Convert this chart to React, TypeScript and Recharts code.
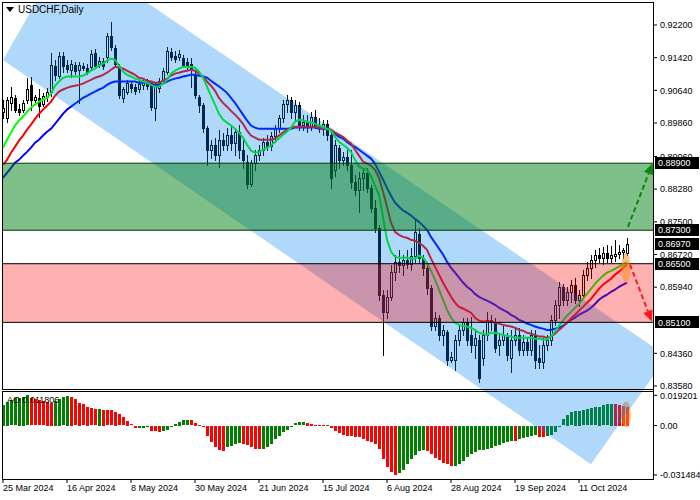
import React from 'react';
import { ComposedChart, Bar, Line, Area, XAxis, YAxis, ReferenceArea, ReferenceLine, ReferenceDot } from 'recharts';

const W = 700;
const H = 500;
const FONT = "Tahoma, 'Liberation Sans', Arial, sans-serif";

const dateTicks = [0, 16, 32, 48, 64, 80, 96, 112, 128, 144];
const dateLabels = ['25 Mar 2024', '16 Apr 2024', '8 May 2024', '30 May 2024', '21 Jun 2024', '15 Jul 2024', '6 Aug 2024', '28 Aug 2024', '19 Sep 2024', '11 Oct 2024'];

const open = [
  0.9013, 0.8999, 0.9034, 0.9046, 0.9020, 0.9018, 0.9042, 0.9077, 0.9042, 0.9046,
  0.9032, 0.9049, 0.9061, 0.9123, 0.9099, 0.9147, 0.9125, 0.9113, 0.9125, 0.9113,
  0.9123, 0.9118, 0.9120, 0.9154, 0.9128, 0.9135, 0.9144, 0.9194, 0.9166, 0.9123,
  0.9046, 0.9061, 0.9080, 0.9073, 0.9066, 0.9077, 0.9085, 0.9080, 0.9022, 0.9070,
  0.9089, 0.9108, 0.9156, 0.9147, 0.9144, 0.9142, 0.9132, 0.9128, 0.9104, 0.9049,
  0.9030, 0.8975, 0.8922, 0.8934, 0.8910, 0.8946, 0.8934, 0.8958, 0.8939, 0.8965,
  0.8922, 0.8894, 0.8841, 0.8891, 0.8910, 0.8922, 0.8941, 0.8932, 0.8956, 0.8975,
  0.8999, 0.9032, 0.9042, 0.9013, 0.9030, 0.8982, 0.8989, 0.8977, 0.9001, 0.8982,
  0.8977, 0.8984, 0.8958, 0.8874, 0.8927, 0.8898, 0.8906, 0.8886, 0.8846, 0.8827,
  0.8855, 0.8867, 0.8831, 0.8784, 0.8736, 0.8576, 0.8535, 0.8571, 0.8631, 0.8655,
  0.8648, 0.8660, 0.8650, 0.8669, 0.8722, 0.8664, 0.8640, 0.8593, 0.8502, 0.8521,
  0.8480, 0.8488, 0.8421, 0.8421, 0.8468, 0.8492, 0.8511, 0.8480, 0.8457, 0.8468,
  0.8426, 0.8480, 0.8516, 0.8511, 0.8457, 0.8468, 0.8476, 0.8426, 0.8468, 0.8480,
  0.8445, 0.8464, 0.8445, 0.8480, 0.8426, 0.8416, 0.8457, 0.8468, 0.8516, 0.8552,
  0.8595, 0.8564, 0.8583, 0.8600, 0.8564, 0.8576, 0.8624, 0.8640, 0.8660, 0.8671,
  0.8664, 0.8676, 0.8664, 0.8669, 0.8674, 0.8679, 0.8676,
];
const high = [
  0.9042, 0.9049, 0.9073, 0.9054, 0.9032, 0.9042, 0.9094, 0.9097, 0.9054, 0.9066,
  0.9058, 0.9070, 0.9154, 0.9137, 0.9156, 0.9156, 0.9137, 0.9137, 0.9132, 0.9132,
  0.9130, 0.9128, 0.9161, 0.9163, 0.9144, 0.9142, 0.9202, 0.9228, 0.9173, 0.9128,
  0.9073, 0.9089, 0.9087, 0.9080, 0.9087, 0.9094, 0.9092, 0.9087, 0.9085, 0.9094,
  0.9118, 0.9168, 0.9166, 0.9159, 0.9161, 0.9149, 0.9142, 0.9142, 0.9108, 0.9054,
  0.9034, 0.8980, 0.8946, 0.8951, 0.8970, 0.8963, 0.8975, 0.8982, 0.8975, 0.8982,
  0.8946, 0.8910, 0.8898, 0.8922, 0.8934, 0.8951, 0.8958, 0.8965, 0.8982, 0.9006,
  0.9042, 0.9054, 0.9049, 0.9042, 0.9037, 0.9006, 0.9006, 0.9013, 0.9018, 0.8999,
  0.8994, 0.8994, 0.8970, 0.8946, 0.8934, 0.8917, 0.8922, 0.8922, 0.8863, 0.8870,
  0.8879, 0.8879, 0.8839, 0.8803, 0.8743, 0.8588, 0.8588, 0.8648, 0.8671, 0.8683,
  0.8671, 0.8683, 0.8688, 0.8755, 0.8736, 0.8671, 0.8655, 0.8600, 0.8535, 0.8528,
  0.8504, 0.8492, 0.8440, 0.8480, 0.8504, 0.8521, 0.8521, 0.8523, 0.8492, 0.8480,
  0.8492, 0.8535, 0.8528, 0.8521, 0.8480, 0.8504, 0.8485, 0.8492, 0.8497, 0.8497,
  0.8480, 0.8473, 0.8492, 0.8492, 0.8457, 0.8473, 0.8480, 0.8528, 0.8564, 0.8607,
  0.8602, 0.8595, 0.8612, 0.8617, 0.8588, 0.8636, 0.8655, 0.8671, 0.8683, 0.8688,
  0.8691, 0.8695, 0.8693, 0.8707, 0.8695, 0.8688, 0.8712,
];
const low = [
  0.8999, 0.8989, 0.9018, 0.9013, 0.9006, 0.9013, 0.9034, 0.9018, 0.9032, 0.9001,
  0.9027, 0.9039, 0.9051, 0.9089, 0.9094, 0.9108, 0.9108, 0.9097, 0.9104, 0.9034,
  0.9113, 0.9104, 0.9116, 0.9118, 0.9120, 0.9116, 0.9132, 0.9161, 0.9120, 0.9046,
  0.9037, 0.9056, 0.9061, 0.9056, 0.9061, 0.9068, 0.9066, 0.9018, 0.8994, 0.9061,
  0.9085, 0.9104, 0.9137, 0.9132, 0.9137, 0.9120, 0.9113, 0.9073, 0.9046, 0.9013,
  0.8965, 0.8886, 0.8903, 0.8898, 0.8882, 0.8922, 0.8922, 0.8922, 0.8910, 0.8903,
  0.8879, 0.8831, 0.8836, 0.8874, 0.8898, 0.8910, 0.8922, 0.8922, 0.8941, 0.8965,
  0.8989, 0.9013, 0.8999, 0.8994, 0.8970, 0.8970, 0.8965, 0.8970, 0.8975, 0.8965,
  0.8958, 0.8946, 0.8831, 0.8860, 0.8879, 0.8886, 0.8874, 0.8831, 0.8815, 0.8774,
  0.8827, 0.8822, 0.8774, 0.8726, 0.8564, 0.8433, 0.8521, 0.8564, 0.8612, 0.8631,
  0.8624, 0.8640, 0.8636, 0.8655, 0.8655, 0.8624, 0.8578, 0.8492, 0.8492, 0.8468,
  0.8457, 0.8409, 0.8416, 0.8397, 0.8457, 0.8480, 0.8457, 0.8440, 0.8426, 0.8368,
  0.8409, 0.8468, 0.8492, 0.8440, 0.8433, 0.8457, 0.8421, 0.8392, 0.8457, 0.8433,
  0.8433, 0.8433, 0.8433, 0.8402, 0.8402, 0.8402, 0.8445, 0.8457, 0.8504, 0.8521,
  0.8552, 0.8552, 0.8559, 0.8557, 0.8550, 0.8569, 0.8612, 0.8617, 0.8643, 0.8655,
  0.8650, 0.8655, 0.8655, 0.8657, 0.8664, 0.8664, 0.8671,
];
const close = [
  0.9022, 0.9042, 0.9049, 0.9018, 0.9013, 0.9034, 0.9066, 0.9042, 0.9049, 0.9027,
  0.9051, 0.9061, 0.9125, 0.9101, 0.9147, 0.9123, 0.9116, 0.9128, 0.9111, 0.9125,
  0.9118, 0.9108, 0.9151, 0.9123, 0.9135, 0.9123, 0.9194, 0.9168, 0.9128, 0.9054,
  0.9066, 0.9082, 0.9070, 0.9063, 0.9080, 0.9087, 0.9075, 0.9025, 0.9077, 0.9087,
  0.9111, 0.9159, 0.9144, 0.9140, 0.9151, 0.9125, 0.9123, 0.9113, 0.9054, 0.9030,
  0.8975, 0.8922, 0.8934, 0.8910, 0.8946, 0.8934, 0.8958, 0.8939, 0.8965, 0.8922,
  0.8898, 0.8841, 0.8891, 0.8910, 0.8922, 0.8941, 0.8932, 0.8956, 0.8975, 0.8999,
  0.9032, 0.9042, 0.9013, 0.9030, 0.8982, 0.8989, 0.8977, 0.9001, 0.8982, 0.8977,
  0.8984, 0.8958, 0.8855, 0.8934, 0.8898, 0.8906, 0.8886, 0.8846, 0.8827, 0.8855,
  0.8867, 0.8831, 0.8784, 0.8736, 0.8576, 0.8535, 0.8571, 0.8631, 0.8655, 0.8648,
  0.8660, 0.8650, 0.8669, 0.8726, 0.8664, 0.8640, 0.8593, 0.8502, 0.8521, 0.8480,
  0.8492, 0.8421, 0.8428, 0.8468, 0.8492, 0.8511, 0.8468, 0.8457, 0.8473, 0.8378,
  0.8480, 0.8516, 0.8511, 0.8449, 0.8468, 0.8480, 0.8433, 0.8468, 0.8480, 0.8445,
  0.8464, 0.8445, 0.8480, 0.8421, 0.8416, 0.8457, 0.8468, 0.8516, 0.8552, 0.8595,
  0.8564, 0.8583, 0.8600, 0.8564, 0.8576, 0.8624, 0.8640, 0.8660, 0.8671, 0.8664,
  0.8676, 0.8664, 0.8671, 0.8674, 0.8679, 0.8683, 0.8697,
];

const maFast = [
  0.8927, 0.8946, 0.8963, 0.8980, 0.8992, 0.9001, 0.9013, 0.9023, 0.9030, 0.9037,
  0.9042, 0.9046, 0.9056, 0.9075, 0.9085, 0.9094, 0.9097, 0.9097, 0.9097, 0.9097,
  0.9099, 0.9104, 0.9111, 0.9116, 0.9123, 0.9128, 0.9135, 0.9140, 0.9137, 0.9123,
  0.9109, 0.9101, 0.9097, 0.9092, 0.9089, 0.9085, 0.9082, 0.9077, 0.9073, 0.9073,
  0.9080, 0.9089, 0.9104, 0.9111, 0.9116, 0.9120, 0.9120, 0.9120, 0.9118, 0.9109,
  0.9094, 0.9073, 0.9051, 0.9030, 0.9008, 0.8994, 0.8987, 0.8980, 0.8972, 0.8963,
  0.8951, 0.8934, 0.8920, 0.8915, 0.8917, 0.8922, 0.8927, 0.8932, 0.8941, 0.8949,
  0.8958, 0.8965, 0.8975, 0.8989, 0.8994, 0.8992, 0.8989, 0.8987, 0.8984, 0.8980,
  0.8977, 0.8972, 0.8968, 0.8953, 0.8941, 0.8934, 0.8927, 0.8917, 0.8898, 0.8882,
  0.8877, 0.8874, 0.8860, 0.8836, 0.8815, 0.8762, 0.8707, 0.8679, 0.8667, 0.8664,
  0.8664, 0.8664, 0.8662, 0.8662, 0.8669, 0.8664, 0.8652, 0.8633, 0.8612, 0.8588,
  0.8564, 0.8540, 0.8521, 0.8509, 0.8504, 0.8502, 0.8500, 0.8497, 0.8492, 0.8485,
  0.8483, 0.8480, 0.8485, 0.8485, 0.8483, 0.8480, 0.8478, 0.8476, 0.8473, 0.8473,
  0.8473, 0.8473, 0.8473, 0.8471, 0.8471, 0.8469, 0.8469, 0.8476, 0.8488, 0.8502,
  0.8514, 0.8526, 0.8535, 0.8545, 0.8554, 0.8566, 0.8578, 0.8590, 0.8602, 0.8612,
  0.8621, 0.8629, 0.8633, 0.8638, 0.8643, 0.8648, 0.8655,
];
const maMid = [
  0.8886, 0.8898, 0.8915, 0.8929, 0.8944, 0.8956, 0.8970, 0.8982, 0.8996, 0.9008,
  0.9018, 0.9027, 0.9037, 0.9051, 0.9061, 0.9066, 0.9070, 0.9073, 0.9075, 0.9077,
  0.9080, 0.9085, 0.9089, 0.9094, 0.9097, 0.9101, 0.9106, 0.9113, 0.9120, 0.9118,
  0.9116, 0.9111, 0.9106, 0.9101, 0.9094, 0.9092, 0.9087, 0.9085, 0.9082, 0.9082,
  0.9087, 0.9092, 0.9099, 0.9104, 0.9106, 0.9109, 0.9111, 0.9113, 0.9111, 0.9104,
  0.9097, 0.9085, 0.9075, 0.9063, 0.9046, 0.9034, 0.9025, 0.9015, 0.9006, 0.8996,
  0.8984, 0.8968, 0.8956, 0.8951, 0.8946, 0.8946, 0.8946, 0.8946, 0.8949, 0.8956,
  0.8963, 0.8970, 0.8975, 0.8977, 0.8977, 0.8977, 0.8977, 0.8977, 0.8977, 0.8975,
  0.8972, 0.8972, 0.8970, 0.8963, 0.8958, 0.8953, 0.8944, 0.8937, 0.8922, 0.8908,
  0.8894, 0.8889, 0.8884, 0.8874, 0.8855, 0.8822, 0.8786, 0.8748, 0.8726, 0.8719,
  0.8714, 0.8712, 0.8707, 0.8705, 0.8700, 0.8693, 0.8683, 0.8662, 0.8643, 0.8624,
  0.8605, 0.8588, 0.8571, 0.8557, 0.8547, 0.8543, 0.8538, 0.8533, 0.8521, 0.8514,
  0.8512, 0.8512, 0.8512, 0.8509, 0.8507, 0.8504, 0.8502, 0.8500, 0.8497, 0.8492,
  0.8490, 0.8485, 0.8483, 0.8480, 0.8476, 0.8476, 0.8473, 0.8476, 0.8483, 0.8492,
  0.8500, 0.8509, 0.8519, 0.8528, 0.8538, 0.8547, 0.8557, 0.8566, 0.8578, 0.8590,
  0.8600, 0.8607, 0.8614, 0.8624, 0.8631, 0.8640, 0.8648,
];
const maSlow = [
  0.8855, 0.8867, 0.8879, 0.8891, 0.8898, 0.8908, 0.8917, 0.8927, 0.8939, 0.8946,
  0.8956, 0.8965, 0.8972, 0.8984, 0.8996, 0.9008, 0.9018, 0.9025, 0.9032, 0.9039,
  0.9046, 0.9051, 0.9056, 0.9061, 0.9066, 0.9070, 0.9077, 0.9082, 0.9085, 0.9085,
  0.9085, 0.9085, 0.9085, 0.9085, 0.9082, 0.9082, 0.9082, 0.9080, 0.9077, 0.9077,
  0.9080, 0.9085, 0.9089, 0.9092, 0.9094, 0.9097, 0.9099, 0.9101, 0.9101, 0.9099,
  0.9097, 0.9094, 0.9087, 0.9080, 0.9073, 0.9066, 0.9058, 0.9046, 0.9034, 0.9020,
  0.9006, 0.8992, 0.8980, 0.8975, 0.8972, 0.8972, 0.8972, 0.8972, 0.8972, 0.8972,
  0.8972, 0.8972, 0.8972, 0.8975, 0.8975, 0.8975, 0.8975, 0.8975, 0.8975, 0.8972,
  0.8972, 0.8972, 0.8968, 0.8960, 0.8953, 0.8949, 0.8941, 0.8934, 0.8929, 0.8922,
  0.8915, 0.8908, 0.8901, 0.8889, 0.8870, 0.8851, 0.8831, 0.8812, 0.8796, 0.8786,
  0.8777, 0.8772, 0.8765, 0.8757, 0.8750, 0.8741, 0.8731, 0.8714, 0.8700, 0.8686,
  0.8672, 0.8655, 0.8640, 0.8629, 0.8617, 0.8605, 0.8595, 0.8588, 0.8578, 0.8571,
  0.8566, 0.8562, 0.8557, 0.8552, 0.8545, 0.8540, 0.8535, 0.8528, 0.8523, 0.8516,
  0.8512, 0.8507, 0.8504, 0.8500, 0.8497, 0.8495, 0.8492, 0.8492, 0.8495, 0.8497,
  0.8502, 0.8509, 0.8516, 0.8521, 0.8528, 0.8533, 0.8538, 0.8545, 0.8554, 0.8564,
  0.8571, 0.8576, 0.8583, 0.8588, 0.8595, 0.8600, 0.8605,
];

const ao = [
  0.01306, 0.01518, 0.01624, 0.0173, 0.0176, 0.0184, 0.019201, 0.0172, 0.0166, 0.0161,
  0.0156, 0.0150, 0.0146, 0.0158, 0.0170, 0.0180, 0.0188, 0.0184, 0.0167, 0.0145,
  0.0135, 0.0120, 0.0109, 0.0105, 0.0107, 0.0099, 0.0098, 0.0097, 0.0088, 0.0071,
  0.0052, 0.0031, 0.0007, -0.0015, -0.0012, -0.0010, -0.0009, -0.0030, -0.0034, -0.0036,
  -0.0034, -0.0025, -0.0008, 0.0012, 0.0024, 0.0032, 0.0035, 0.0033, 0.0018, 0.0003,
  -0.0008, -0.0061, -0.0103, -0.0135, -0.0156, -0.0158, -0.0135, -0.0125, -0.0115, -0.0110,
  -0.0114, -0.0124, -0.0135, -0.0145, -0.0146, -0.0144, -0.0135, -0.0114, -0.0082, -0.0061,
  -0.0039, -0.0024, -0.0001, 0.0014, 0.0020, 0.0022, 0.0016, 0.0010, 0.0005, 0.0003,
  0.0002, 0.0003, -0.0015, -0.0033, -0.0046, -0.0056, -0.0065, -0.0066, -0.0067, -0.0071,
  -0.0082, -0.0093, -0.0103, -0.0114, -0.0146, -0.0210, -0.0263, -0.0295, -0.031484, -0.0302,
  -0.0280, -0.0240, -0.0208, -0.0182, -0.0160, -0.0155, -0.0160, -0.0177, -0.0202, -0.0219,
  -0.0234, -0.0245, -0.0253, -0.0252, -0.0240, -0.0222, -0.0200, -0.0180, -0.0165, -0.0155,
  -0.0150, -0.0145, -0.0138, -0.0130, -0.0120, -0.0110, -0.0100, -0.0095, -0.0098, -0.0085,
  -0.0075, -0.0070, -0.0065, -0.0060, -0.0070, -0.0072, -0.0062, -0.0055, -0.0040, -0.0008,
  0.0040, 0.0068, 0.0083, 0.0094, 0.0095, 0.0097, 0.0103, 0.0110, 0.0116, 0.0120,
  0.0130, 0.0136, 0.0140, 0.0138, 0.0133, 0.0127, 0.011806,
];

const priceTicks = [0.922, 0.9142, 0.9064, 0.8986, 0.8906, 0.8828, 0.875, 0.8672, 0.8594, 0.8436, 0.8358];
const aoTicks = [0.019201, 0, -0.031484];

const buyZone = [0.873, 0.889];
const sellZone = [0.851, 0.865];
const lastPrice = 0.8697;

// channel corners: bar index, lower price, upper price
const channelBars = [0, 16, 147, 166];
const channelLow = [0.91364, 0.90307, 0.81711, 0.84289];
const channelHigh = [0.91364, 0.94031, 0.85524, 0.84289];

// annotations (bar index, price)
const upArrowFrom = [156.25, 0.8738];
const upArrowTo = [162.4, 0.889];
const downArrowFrom = [156.75, 0.8648];
const downArrowTo = [162.2, 0.8512];
const markBar = 155.75;
const markPrice = 0.864;
const markAo = 0.007;

const X_DOMAIN: [number, number] = [-0.25, 162.5];
const P_DOMAIN: [number, number] = [0.813596, 0.927492];
const AO_DOMAIN: [number, number] = [-0.034076, 0.021975];

const candleRows = close.map((c, k) => ({
  x: k, o: open[k], h: high[k], l: low[k], c,
  range: [low[k], high[k]], g: maFast[k], r: maMid[k], b: maSlow[k],
}));
const aoRows = ao.map((v, k) => ({ x: k, ao: v, up: k === 0 || v > ao[k - 1] }));
const channelRows = channelBars.map((x, i) => ({ x, chan: [channelLow[i], channelHigh[i]] }));

function Candle(props: any) {
  const { x, y, width, height, payload } = props;
  if (!payload || payload.o == null || x == null) return null;
  const top = Math.min(y, y + height);
  const span = Math.abs(height);
  const { o, h, l, c } = payload;
  const k = h > l ? span / (h - l) : 0;
  const cx = Math.round(x + width / 2);
  const yo = top + (h - o) * k;
  const yc = top + (h - c) * k;
  const b1 = Math.round(Math.min(yo, yc));
  const b2 = Math.round(Math.max(yo, yc));
  const w1 = Math.round(top);
  const w2 = Math.round(top + span);
  const bull = c > o;
  return (
    <g shapeRendering="crispEdges">
      <rect x={cx} y={w1} width={1} height={Math.max(1, w2 - w1 + 1)} fill="#000" />
      {bull ? (
        <rect x={cx - 0.5} y={b1 + 0.5} width={2} height={Math.max(1, b2 - b1)} fill="#fff" stroke="#000" strokeWidth={1} />
      ) : (
        <rect x={cx - 1} y={b1} width={3} height={Math.max(1, b2 - b1 + 1)} fill="#000" />
      )}
    </g>
  );
}

function AoBar(props: any) {
  const { x, y, width, height, payload } = props;
  if (!payload || x == null) return null;
  const top = Math.min(y, y + height);
  const span = Math.abs(height);
  const cx = Math.round(x + width / 2);
  return (
    <rect x={cx - 1} y={Math.round(top)} width={3} height={Math.max(1, Math.round(span))}
      fill={payload.up ? '#008000' : '#ff0000'} shapeRendering="crispEdges" />
  );
}

function DateTick(props: any) {
  const { x, y, payload } = props;
  const i = dateTicks.indexOf(payload.value);
  return (
    <text x={x} y={y} dy="0.71em" textAnchor="start" fontSize={9} fontFamily={FONT} fill="#000">
      {i >= 0 ? dateLabels[i] : ''}
    </text>
  );
}

const priceTag = (text: string) => (p: any) => {
  const vb = p.viewBox || {};
  const x = vb.x + vb.width + 2;
  const y = vb.y;
  return (
    <g>
      <rect x={x} y={y - 6} width={44} height={12} fill="#000" shapeRendering="crispEdges" />
      <text x={x + 3} y={y} dy="0.36em" fontSize={9} fontFamily={FONT} fill="#fff">{text}</text>
    </g>
  );
};

const arrowShape = (color: string) => (p: any) => {
  const { x1, y1, x2, y2 } = p;
  if (x1 == null) return <g />;
  const ang = Math.atan2(y2 - y1, x2 - x1);
  const L = 11;
  const Wd = 5;
  const bx = x2 - L * Math.cos(ang);
  const by = y2 - L * Math.sin(ang);
  const px = -Math.sin(ang) * Wd;
  const py = Math.cos(ang) * Wd;
  return (
    <g>
      <line x1={x1} y1={y1} x2={bx} y2={by} stroke={color} strokeWidth={2} strokeDasharray="5 3" />
      <polygon points={`${x2},${y2} ${bx + px},${by + py} ${bx - px},${by - py}`} fill={color} />
    </g>
  );
};

const ellipseShape = (rx: number, ry: number) => (p: any) => (
  <ellipse cx={p.cx} cy={p.cy} rx={rx} ry={ry} fill="#ff8c1e" fillOpacity={0.55} />
);

const MAIN_MARGIN = { top: 2, right: 0, bottom: 21, left: 2 };
const layer: React.CSSProperties = { position: 'absolute', left: 0, top: 0 };

export default function App() {
  return (
    <div style={{ position: 'fixed', left: 0, top: 0, width: W, height: H, background: '#fff', overflow: 'hidden', fontFamily: FONT }}>
      {/* AO oscillator pane */}
      <div style={layer}>
        <ComposedChart width={W} height={H} data={aoRows} margin={{ top: 391, right: 0, bottom: 0, left: 2 }}>
          <XAxis type="number" dataKey="x" domain={X_DOMAIN} allowDataOverflow ticks={dateTicks} interval={0}
            height={21} tick={DateTick} tickSize={4} tickLine={{ stroke: '#000' }} axisLine={false} />
          <YAxis orientation="right" width={47} type="number" domain={AO_DOMAIN} allowDataOverflow ticks={aoTicks} interval={0}
            tickFormatter={(v: number) => (v === 0 ? '0.00' : v.toFixed(6))}
            tick={{ fontSize: 9, fill: '#000', fontFamily: FONT }} tickSize={4} tickMargin={3}
            tickLine={{ stroke: '#000' }} axisLine={false} />
          <Bar dataKey="ao" barSize={3} shape={AoBar} isAnimationActive={false} />
          <ReferenceDot x={markBar} y={markAo} shape={ellipseShape(5, 13)} ifOverflow="visible" />
        </ComposedChart>
      </div>

      {/* candles + moving averages */}
      <div style={layer}>
        <ComposedChart width={W} height={H} data={candleRows} margin={MAIN_MARGIN}>
          <XAxis type="number" dataKey="x" domain={X_DOMAIN} allowDataOverflow hide />
          <YAxis orientation="right" width={47} type="number" domain={P_DOMAIN} allowDataOverflow tick={false} tickLine={false} axisLine={false} />
          <Bar dataKey="range" barSize={3} shape={Candle} isAnimationActive={false} />
          <Line dataKey="b" type="linear" stroke="#0000ff" strokeWidth={2} dot={false} activeDot={false} isAnimationActive={false} />
          <Line dataKey="r" type="linear" stroke="#ff0000" strokeWidth={2} dot={false} activeDot={false} isAnimationActive={false} />
          <Line dataKey="g" type="linear" stroke="#00ff00" strokeWidth={2} dot={false} activeDot={false} isAnimationActive={false} />
        </ComposedChart>
      </div>

      {/* channel, zones, annotations, price axis */}
      <div style={layer}>
        <ComposedChart width={W} height={H} data={channelRows} margin={MAIN_MARGIN}>
          <XAxis type="number" dataKey="x" domain={X_DOMAIN} allowDataOverflow hide />
          <YAxis orientation="right" width={47} type="number" domain={P_DOMAIN} allowDataOverflow ticks={priceTicks} interval={0}
            tickFormatter={(v: number) => v.toFixed(5)}
            tick={{ fontSize: 9, fill: '#000', fontFamily: FONT }} tickSize={4} tickMargin={3}
            tickLine={{ stroke: '#000' }} axisLine={false} />
          <Area dataKey="chan" type="linear" stroke="none" fill="#0082f0" fillOpacity={0.31} isAnimationActive={false} activeDot={false} zIndex={100} />
          <ReferenceArea y1={buyZone[0]} y2={buyZone[1]} fill="#008014" fillOpacity={0.5} stroke="none" zIndex={150} />
          <ReferenceArea y1={sellZone[0]} y2={sellZone[1]} fill="#ff0000" fillOpacity={0.31} stroke="none" zIndex={150} />
          <ReferenceLine y={buyZone[1]} stroke="#003300" strokeWidth={1} label={priceTag(buyZone[1].toFixed(5))} zIndex={160} />
          <ReferenceLine y={buyZone[0]} stroke="#003300" strokeWidth={1} label={priceTag(buyZone[0].toFixed(5))} zIndex={160} />
          <ReferenceLine y={sellZone[1]} stroke="#000" strokeWidth={1} label={priceTag(sellZone[1].toFixed(5))} zIndex={160} />
          <ReferenceLine y={sellZone[0]} stroke="#000" strokeWidth={1} label={priceTag(sellZone[0].toFixed(5))} zIndex={160} />
          <ReferenceLine y={lastPrice} stroke="none" strokeOpacity={0} label={priceTag(lastPrice.toFixed(5))} zIndex={160} />
          <ReferenceDot x={markBar} y={markPrice} shape={ellipseShape(4.5, 15)} zIndex={170} />
          <ReferenceLine segment={[{ x: upArrowFrom[0], y: upArrowFrom[1] }, { x: upArrowTo[0], y: upArrowTo[1] }]}
            shape={arrowShape('#0a8a0a')} zIndex={170} />
          <ReferenceLine segment={[{ x: downArrowFrom[0], y: downArrowFrom[1] }, { x: downArrowTo[0], y: downArrowTo[1] }]}
            shape={arrowShape('#ff1a1a')} zIndex={170} />
        </ComposedChart>
      </div>

      {/* pane frames */}
      <div style={{ position: 'absolute', left: 2, top: 2, width: 652, height: 388, border: '1px solid #000', boxSizing: 'border-box', pointerEvents: 'none' }} />
      <div style={{ position: 'absolute', left: 2, top: 391, width: 652, height: 89, border: '1px solid #000', boxSizing: 'border-box', pointerEvents: 'none' }} />
      <div style={{ position: 'absolute', left: 653, top: 2, width: 1, height: 478, background: '#000', pointerEvents: 'none' }} />

      {/* titles */}
      <div style={{ position: 'absolute', left: 6, top: 4, height: 12, display: 'flex', alignItems: 'center', fontSize: 10, color: '#000', lineHeight: '12px' }}>
        <svg width={8} height={6} style={{ display: 'block' }}><polygon points="0,0 8,0 4,5" fill="#000" /></svg>
        <span style={{ marginLeft: 4 }}>USDCHF,Daily</span>
      </div>
      <div style={{ position: 'absolute', left: 7, top: 395, fontSize: 9, color: '#000', lineHeight: '11px' }}>
        AO 0.011806
      </div>
    </div>
  );
}
